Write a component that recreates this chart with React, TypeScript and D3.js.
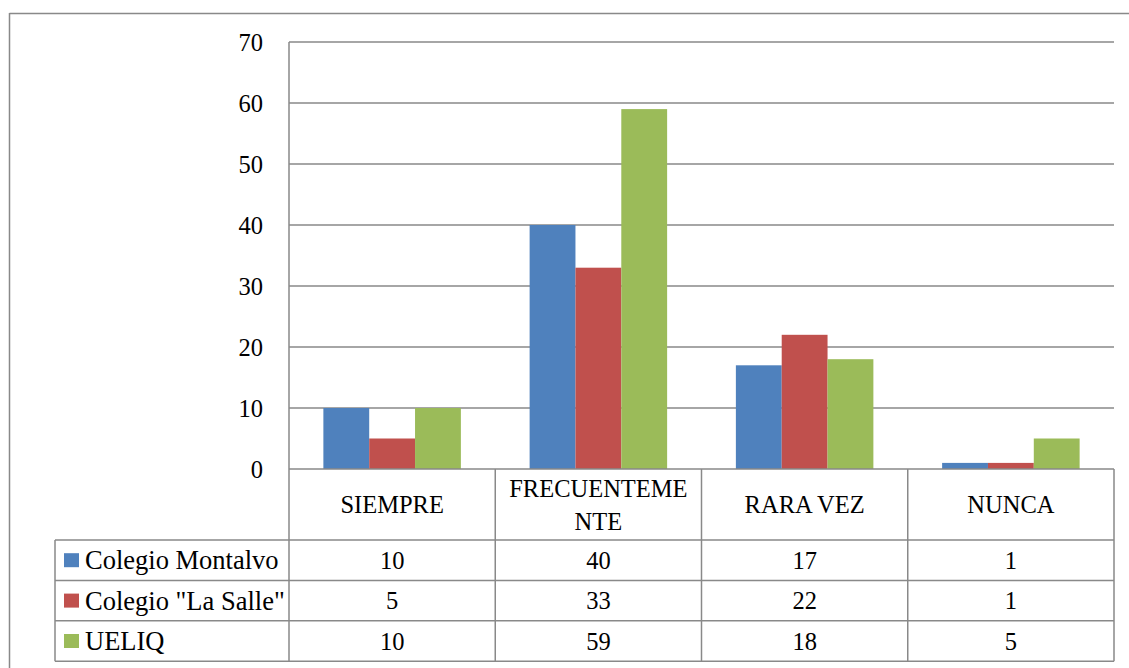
import React from "react";
import * as d3 from "d3";

const categories = ["SIEMPRE", "FRECUENTEMENTE", "RARA VEZ", "NUNCA"];
const categoryLines = [["SIEMPRE"], ["FRECUENTEME", "NTE"], ["RARA VEZ"], ["NUNCA"]];
const seriesNames = ["Colegio Montalvo", "Colegio \"La Salle\"", "UELIQ"];
const montalvo = [10, 40, 17, 1];
const laSalle = [5, 33, 22, 1];
const ueliq = [10, 59, 18, 5];
const seriesColors = ["#4F81BD", "#C0504D", "#9BBB59"];
const yTicks = [0, 10, 20, 30, 40, 50, 60, 70];

const seriesValues = [montalvo, laSalle, ueliq];

const W = 1129;
const H = 668;
const left = 289;
const right = 1114;
const top = 42;
const zeroY = 469;
const headerBottom = 540;
const rowH = 40.4;
const legendLeft = 55;
const gridColor = "#898989";
const font = "Liberation Serif, DejaVu Serif, serif";
const fs = 24.5;
const legendFs = 26.5;

export default function App() {
  const x = d3.scaleBand<string>().domain(categories).range([left, right]).paddingInner(0).paddingOuter(0);
  const xs = d3.scaleBand<string>().domain(seriesNames).range([0, x.bandwidth()]).paddingInner(0).paddingOuter(0.75);
  const y = d3.scaleLinear().domain([0, 70]).range([zeroY, top]);
  const tableBottom = headerBottom + rowH * seriesNames.length;

  return (
    <svg width={W} height={H} style={{ position: "absolute", left: 0, top: 0, background: "#fff", fontFamily: font }}>
      {/* outer frame */}
      <line x1={9.5} y1={13} x2={9.5} y2={H} stroke={gridColor} strokeWidth={1.5} />
      <line x1={9.5} y1={13.5} x2={W} y2={13.5} stroke={gridColor} strokeWidth={1.5} />

      {/* gridlines */}
      {yTicks.filter((t) => t > 0).map((t) => (
        <line key={t} x1={left} x2={right} y1={y(t)} y2={y(t)} stroke={gridColor} strokeWidth={1.5} />
      ))}
      {/* y tick labels */}
      {yTicks.map((t) => (
        <text key={t} x={263} y={y(t)} dy="0.35em" textAnchor="end" fontSize={fs} fill="#000">{t}</text>
      ))}

      {/* bars */}
      {categories.map((c, ci) => (
        <g key={c}>
          {seriesNames.map((s, si) => (
            <rect key={s} x={(x(c) ?? 0) + (xs(s) ?? 0)} y={y(seriesValues[si][ci])} width={xs.bandwidth()} height={zeroY - y(seriesValues[si][ci])} fill={seriesColors[si]} />
          ))}
        </g>
      ))}

      {/* axis line */}
      <line x1={left} x2={left} y1={top} y2={tableBottom} stroke={gridColor} strokeWidth={1.5} />
      <line x1={left} x2={right} y1={zeroY} y2={zeroY} stroke={gridColor} strokeWidth={1.5} />

      {/* table verticals */}
      {categories.map((c) => (
        <line key={c} x1={(x(c) ?? 0) + x.bandwidth()} x2={(x(c) ?? 0) + x.bandwidth()} y1={zeroY} y2={tableBottom} stroke={gridColor} strokeWidth={1.5} />
      ))}
      <line x1={legendLeft} x2={legendLeft} y1={headerBottom} y2={tableBottom} stroke={gridColor} strokeWidth={1.5} />
      {seriesNames.map((s, si) => (
        <line key={s} x1={legendLeft} x2={right} y1={headerBottom + rowH * si} y2={headerBottom + rowH * si} stroke={gridColor} strokeWidth={1.5} />
      ))}
      <line x1={legendLeft} x2={right} y1={tableBottom} y2={tableBottom} stroke={gridColor} strokeWidth={1.5} />

      {/* header labels */}
      {categories.map((c, ci) => {
        const lines = categoryLines[ci];
        const cy = (zeroY + headerBottom) / 2;
        const lh = 33;
        const start = cy - ((lines.length - 1) * lh) / 2;
        return lines.map((ln, li) => (
          <text key={c + li} x={(x(c) ?? 0) + x.bandwidth() / 2} y={start + li * lh} dy="0.35em" textAnchor="middle" fontSize={fs} fill="#000">{ln}</text>
        ));
      })}

      {/* rows */}
      {seriesNames.map((s, si) => {
        const cy = headerBottom + rowH * si + rowH / 2;
        return (
          <g key={s}>
            <rect x={64} y={cy - 7} width={15} height={14} fill={seriesColors[si]} />
            <text x={85} y={cy} dy="0.35em" fontSize={legendFs} fill="#000">{s}</text>
            {categories.map((c, ci) => (
              <text key={c} x={(x(c) ?? 0) + x.bandwidth() / 2} y={cy} dy="0.35em" textAnchor="middle" fontSize={fs} fill="#000">{seriesValues[si][ci]}</text>
            ))}
          </g>
        );
      })}
    </svg>
  );
}
